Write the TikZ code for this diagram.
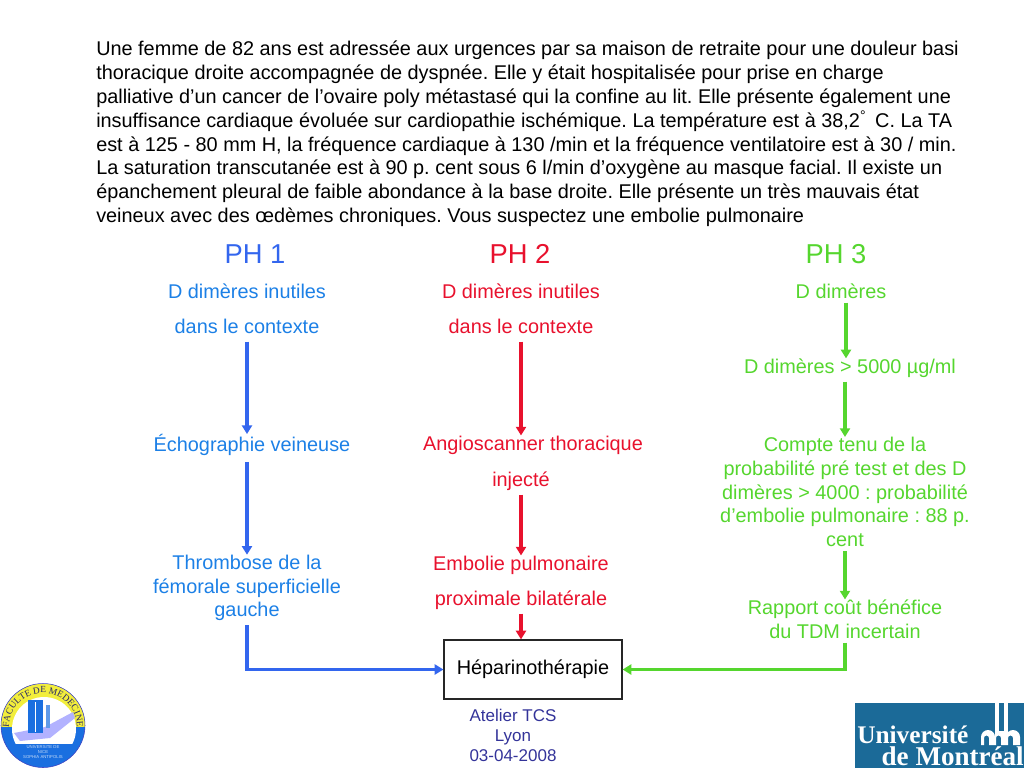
\documentclass[tikz,border=0pt]{standalone}
\usepackage{fontspec}
\setmainfont{Liberation Sans}
\newfontfamily\serifB{Liberation Serif}
\usetikzlibrary{arrows.meta,decorations.text,calc}
\definecolor{phblue}{HTML}{3366EE}
\definecolor{txblue}{HTML}{1C80E6}
\definecolor{phred}{HTML}{E8112D}
\definecolor{phgreen}{HTML}{55D62E}
\definecolor{gr}{HTML}{55D62E}
\definecolor{atl}{HTML}{333399}
\definecolor{udem}{HTML}{1B6A98}
\definecolor{logoY}{HTML}{F2EE3C}
\definecolor{logoB}{HTML}{1A6FE0}
\tikzset{
  x=0.75pt,y=-0.75pt,
  para/.style={anchor=north west,align=left,inner sep=0pt,font=\fontsize{14.9pt}{17.85pt}\selectfont},
  ph/.style={inner sep=0pt,font=\fontsize{20.5pt}{24pt}\selectfont},
  lab/.style={inner sep=0pt,align=center,font=\fontsize{14.9pt}{17.8pt}\selectfont},
  arr/.style={line width=2.3pt,-{Triangle[length=6.5pt,width=7.5pt]}},
}
\frenchspacing
\begin{document}
\begin{tikzpicture}
\useasboundingbox (0,0) rectangle (1024,768);
\node[para] (intro) at (96,41) {Une femme de 82 ans est adressée aux urgences par sa maison de retraite pour une douleur basi\\
thoracique droite accompagnée de dyspnée. Elle y était hospitalisée pour prise en charge\\
palliative d’un cancer de l’ovaire poly métastasé qui la confine au lit. Elle présente également une\\
insuffisance cardiaque évoluée sur cardiopathie ischémique. La température est à 38,2\textsuperscript{°}\, C. La TA\\
est à 125 - 80 mm H, la fréquence cardiaque à 130 /min et la fréquence ventilatoire est à 30 / min.\\
La saturation transcutanée est à 90 p. cent sous 6 l/min d’oxygène au masque facial. Il existe un\\
épanchement pleural de faible abondance à la base droite. Elle présente un très mauvais état\\
veineux avec des œdèmes chroniques. Vous suspectez une embolie pulmonaire};

\node[ph,text=phblue] (ph1) at (255,254) {PH 1};
\node[ph,text=phred] (ph2) at (520,254) {PH 2};
\node[ph,text=phgreen] (ph3) at (836,254) {PH 3};

% column 1
\node[lab,text=txblue] (a1) at (247,291) {D dimères inutiles};
\node[lab,text=txblue] (a2) at (247,326) {dans le contexte};
\node[lab,text=txblue] (a3) at (252,445) {Échographie veineuse};
\node[lab,text=txblue] (a4) at (247,588) {Thrombose de la\\fémorale superficielle\\gauche};
% column 2
\node[lab,text=phred] (b1) at (521,291) {D dimères inutiles};
\node[lab,text=phred] (b2) at (521,326) {dans le contexte};
\node[lab,text=phred] (b3) at (533,445) {Angioscanner thoracique};
\node[lab,text=phred] (b4) at (521,481) {injecté};
\node[lab,text=phred] (b5) at (521,565) {Embolie pulmonaire};
\node[lab,text=phred] (b6) at (521,600) {proximale bilatérale};
% column 3
\node[lab,text=gr] (c1) at (841,291) {D dimères};
\node[lab,text=gr] (c2) at (850,368) {D dimères > 5000 µg/ml};
\node[lab,text=gr] (c3) at (845,492) {Compte tenu de la\\probabilité pré test et des D\\dimères > 4000 : probabilité\\d’embolie pulmonaire : 88 p.\\cent};
\node[lab,text=gr] (c4) at (845,619) {Rapport coût bénéfice\\du TDM incertain};

\node[draw=black!85,line width=0.9pt,minimum width=133.5pt,minimum height=44.25pt,inner sep=0pt,font=\fontsize{14.9pt}{16pt}\selectfont] (box) at (533,669.5) {Héparinothérapie};

\node[inner sep=0pt,align=center,text=atl,font=\fontsize{12.75pt}{15pt}\selectfont] (atelier) at (513,735) {Atelier TCS\\Lyon\\03-04-2008};

% connectors
\draw[arr,phblue,shorten <=6pt] (a2.south) -- (a2.south |- a3.north);
\draw[arr,phblue,shorten <=4.5pt] (a3.south -| a4) -- (a4.north);
\draw[arr,phblue,shorten <=3pt] (a4.south) |- (box.west);
\draw[arr,phred,shorten <=6pt] (b2.south) -- (b2.south |- b3.north);
\draw[arr,phred,shorten <=3pt] (b4.south) -- (b5.north);
\draw[arr,phred,shorten <=3pt] (b6.south) -- (box.north -| b6);
\draw[arr,gr,shorten <=3pt] ([xshift=3.75pt]c1.south) -- ([xshift=3.75pt]c1.south |- c2.north);
\draw[arr,gr,shorten <=3pt] (c2.south -| c3) -- (c3.north);
\draw[arr,gr,shorten <=3pt] (c3.south) -- (c4.north);
\draw[arr,gr,shorten <=3pt] (c4.south) |- (box.east);

% left logo
\begin{scope}
\clip (43,725.5) circle[radius=42];
\fill[logoB] (0,684) rectangle (86,768);
\fill[logoY] (0,684) rectangle (86,727);
\end{scope}
\draw[blue!50!gray,line width=0.4pt] (43,725.5) circle[radius=42];
\begin{scope}
\clip (0,684) rectangle (86,743);
\fill[white] (44,729) circle[radius=32];
\end{scope}
\fill[blue!30] (14,733) -- (45,727) -- (73,712) -- (75,718) -- (50,738) -- (20,741) -- cycle;
\fill[logoB] (28,700) rectangle (43,733);
\fill[white] (35,702) rectangle (36,732);
\fill[logoB!70] (46,705) rectangle (50,728);
\path[postaction={decorate},decoration={text along path,text align=center,
  text={|\fontsize{7pt}{7pt}\selectfont\serifB\color{atl!70!black}|FACULTE DE MEDECINE}}]
  (9,727) arc[start angle=180,end angle=360,radius=34];
\node[inner sep=0pt,align=center,text=white!75!logoB,font=\fontsize{3.2pt}{3.9pt}\selectfont] (nice) at (43,752) {UNIVERSITE DE\\NICE\\SOPHIA ANTIPOLIS};

% right logo
\fill[udem] (855,703) rectangle (1024,768);
\node[anchor=base west,inner sep=0pt,text=white,font=\serifB\bfseries\fontsize{19pt}{19pt}\selectfont] (um1) at (857,743) {Université};
\node[anchor=base east,inner sep=0pt,text=white,font=\serifB\bfseries\fontsize{20.3pt}{20.3pt}\selectfont] (um2) at (1024,765) {de Montréal};
\fill[white] (995,703) rectangle (999,731);
\fill[white] (1004,703) rectangle (1008,731);
\fill[white] (981,745) -- (981,737) arc[start angle=180,end angle=360,radius=7] -- (995,731) -- (1008,731) -- (1006,737) arc[start angle=180,end angle=360,radius=7] -- (1020,745) -- (1013,745) -- (1013,738) arc[start angle=360,end angle=180,radius=2.5] -- (1008,745) -- (1001,745) -- (1001,738) arc[start angle=360,end angle=180,radius=2.5] -- (996,745) -- (989,745) -- (989,738) arc[start angle=360,end angle=180,radius=2.5] -- (984,745) -- cycle;
\end{tikzpicture}
\end{document}
